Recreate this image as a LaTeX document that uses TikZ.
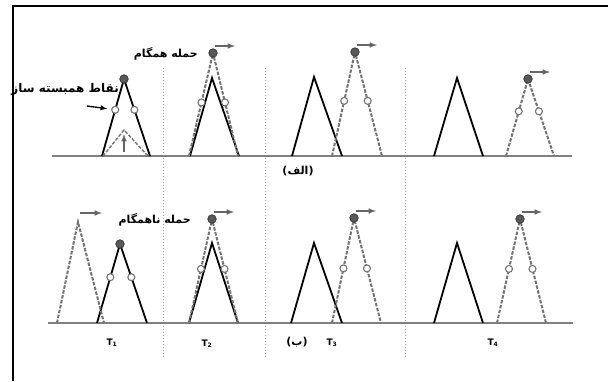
\documentclass[tikz,border=0pt]{standalone}
\usepackage{fontspec}
\setsansfont{DejaVu Sans}
\newfontfamily\farsi[Script=Arabic]{DejaVu Sans}
\TeXXeTstate=1
\usepackage{tikz}
\usetikzlibrary{
  arrows,
  calc,
  positioning
}
\tikzset{>=latex}
\tikzset{
  frame/.style={black, line width=2pt},
  divider/.style={black!35, dotted, line width=1pt},
  groundline/.style={black!50, line width=1.6pt},
  solidtri/.style={black, line width=1.8pt},
  dashtri/.style={black!55, line width=2pt, dash pattern=on 3.5pt off 1.5pt},
  peak/.style={circle, draw=black!80, fill=black!65, line width=0.7pt,
    inner sep=0pt, minimum size=8.5pt},
  corr/.style={circle, draw=black!55, fill=white, line width=1.1pt,
    inner sep=0pt, minimum size=7pt},
  shiftarrow/.style={->, black!60, line width=1.5pt},
  fatext/.style={font=\farsi\bfseries\fontsize{11}{13}\selectfont, inner sep=0pt},
  timetext/.style={font=\sffamily\bfseries\fontsize{9}{10}\selectfont, inner sep=0pt}
}

\begin{document}
\begin{tikzpicture}[x=1pt, y=-1pt]
  \useasboundingbox (0,0) rectangle (613,381);
  % frame
  \draw[frame] (13,381) -- (13,6) -- (608,6);
  % time dividers
  \foreach \x in {163, 265, 405}
    \draw[divider] (\x,68) -- (\x,358);
  % ground lines
  \draw[groundline] (52,156) -- (572,156);
  \draw[groundline] (48,323) -- (573,323);

  % fixed triangles: name/left/apex x/apex y/right/ground
  \foreach \n/\a/\b/\c/\d/\y in {a1/102/124/79/150/156, a2/190/212/78/239/156,
      a3/292/314/77/342/156, a4/434/457/78/483/156, b1/97/120/244/147/323,
      b2/189/212/243/238/323, b3/291/314/243/342/323, b4/434/457/243/483/323}
  {
    \coordinate (\n-l) at (\a,\y);
    \coordinate (\n-p) at (\b,\c);
    \coordinate (\n-r) at (\d,\y);
    \draw[solidtri] (\n-l) -- (\n-p) -- (\n-r);
  }

  % shifted triangles
  \foreach \n/\a/\b/\c/\d/\y/\f in {a2/189/213/53/238/156/0.48,
      a3/332/355/52/382/156/0.47, a4/506/528/79/554/156/0.42,
      b2/189/212/219/238/323/0.48, b3/332/354/218/381/323/0.48,
      b4/497/520/219/546/323/0.48}
  {
    \coordinate (\n-dl) at (\a,\y);
    \coordinate (\n-dp) at (\b,\c);
    \coordinate (\n-dr) at (\d,\y);
    \draw[dashtri] (\n-dl) -- (\n-dp) -- (\n-dr);
    \node[corr] (\n-cl) at ($(\n-dp)!\f!(\n-dl)$) {};
    \node[corr] (\n-cr) at ($(\n-dp)!\f!(\n-dr)$) {};
    \node[peak] (\n-peak) at (\n-dp) {};
    \coordinate (\n-go) at ($(\n-dp)+(2,-7)$);
    \draw[shiftarrow] (\n-go) -- ++(20,0);
  }

  % attack at the first instant
  \node[corr] (a1-cl) at ($(a1-p)!0.4!(a1-l)$) {};
  \node[corr] (a1-cr) at ($(a1-p)!0.4!(a1-r)$) {};
  \node[peak] (a1-peak) at (a1-p) {};
  \coordinate (a1-il) at (103,156);
  \coordinate (a1-ip) at (124,130);
  \coordinate (a1-ir) at (148,156);
  \draw[dashtri, line width=1.4pt] (a1-il) -- (a1-ip) -- (a1-ir);
  \coordinate (a1-up) at (124,152);
  \draw[shiftarrow] (a1-up) -- ++(0,-18);

  \node[corr] (b1-cl) at ($(b1-p)!0.42!(b1-l)$) {};
  \node[corr] (b1-cr) at ($(b1-p)!0.42!(b1-r)$) {};
  \node[peak] (b1-peak) at (b1-p) {};
  \coordinate (b1-dl) at (57,323);
  \coordinate (b1-dp) at (78,222);
  \coordinate (b1-dr) at (104,323);
  \draw[dashtri] (b1-dl) -- (b1-dp) -- (b1-dr);
  \coordinate (b1-go) at (80,213);
  \draw[shiftarrow] (b1-go) -- ++(22,0);

  % labels
  \node[fatext, anchor=east, font=\farsi\bfseries\fontsize{12}{14}\selectfont]
    (corrlabel) at (119,89) {\beginR نقاط همبسته ساز\endR};
  \coordinate (ptr) at (87,106);
  \draw[->, black, line width=1.3pt, shorten >=4pt] (ptr) -- (a1-cl);
  \node[fatext, anchor=east] (synclabel) at (198,54) {\beginR حمله همگام\endR};
  \node[fatext, anchor=east] (asynclabel) at (191,220) {\beginR حمله ناهمگام\endR};
  \node[fatext] (parta) at (298,171) {(الف)};
  \node[fatext] (partb) at (297,342) {(ب)};

  \node[timetext] (t1) at (112,343) {T\textsubscript{1}};
  \node[timetext] (t2) at (207,344) {T\textsubscript{2}};
  \node[timetext] (t3) at (332,343) {T\textsubscript{3}};
  \node[timetext] (t4) at (493,343) {T\textsubscript{4}};
\end{tikzpicture}
\end{document}
